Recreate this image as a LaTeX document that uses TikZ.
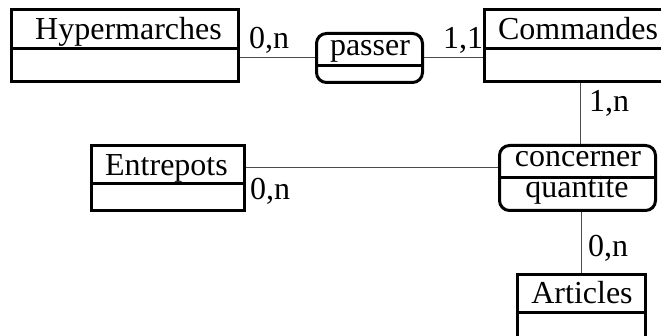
\documentclass[tikz,border=0pt]{standalone}
\usepackage{fontspec}
\setmainfont{Liberation Serif}
\begin{document}
\begin{tikzpicture}[x=1pt,y=-1pt,
  box/.style={draw, line width=3pt, inner sep=0pt, anchor=north west},
  rbox/.style={box, rounded corners=10pt},
  divider/.style={line width=3pt},
  conn/.style={line width=1pt, draw=black!70},
  lbl/.style={anchor=base, inner sep=0pt, font=\fontsize{32}{36}\selectfont},
  card/.style={anchor=base west, inner sep=0pt, font=\fontsize{32}{36}\selectfont}]
\useasboundingbox (0,0) rectangle (661,336);
% entities
\node[box, minimum width=227pt, minimum height=72pt] (hyp) at (10,8) {};
\draw[divider] (10,49) -- (237,49);
\node[lbl] at (128.5,40) {Hypermarches};

\node[box, minimum width=190pt, minimum height=72pt] (cmd) at (483,8) {};
\draw[divider] (483,49) -- (673,49);
\node[lbl] at (578,40) {Commandes};

\node[box, minimum width=153pt, minimum height=65pt] (ent) at (90,144) {};
\draw[divider] (90,184) -- (243,184);
\node[lbl] at (166.5,176) {Entrepots};

\node[box, minimum width=128pt, minimum height=90pt] (art) at (516,273) {};
\draw[divider] (516,313) -- (644,313);
\node[lbl] at (582,304) {Articles};

% associations
\node[rbox, minimum width=106pt, minimum height=49pt] (pas) at (315,32) {};
\draw[divider] (315,66) -- (421,66);
\node[lbl] at (370,56) {passer};

\node[rbox, minimum width=156pt, minimum height=65pt] (con) at (498,144) {};
\draw[divider] (498,178) -- (654,178);
\node[lbl] at (578,167) {concerner};
\node[lbl] at (577,198) {quantite};

% connectors
\draw[conn] (pas.west) -- (pas.west -| hyp.east);
\draw[conn] (pas.east) -- (pas.east -| cmd.west);
\draw[conn] (con.north -| 580,0) -- (cmd.south -| 580,0);
\draw[conn] (con.west |- 0,168) -- (ent.east |- 0,168);
\draw[conn] (con.south -| 581,0) -- (art.north -| 581,0);

% cardinalities
\node[card] (c1) at (249,49) {0,n};
\node[card] (c2) at (443,49) {1,1};
\node[card] (c3) at (589,112) {1,n};
\node[card] (c4) at (250,200) {0,n};
\node[card] (c5) at (588,257) {0,n};
\end{tikzpicture}
\end{document}
